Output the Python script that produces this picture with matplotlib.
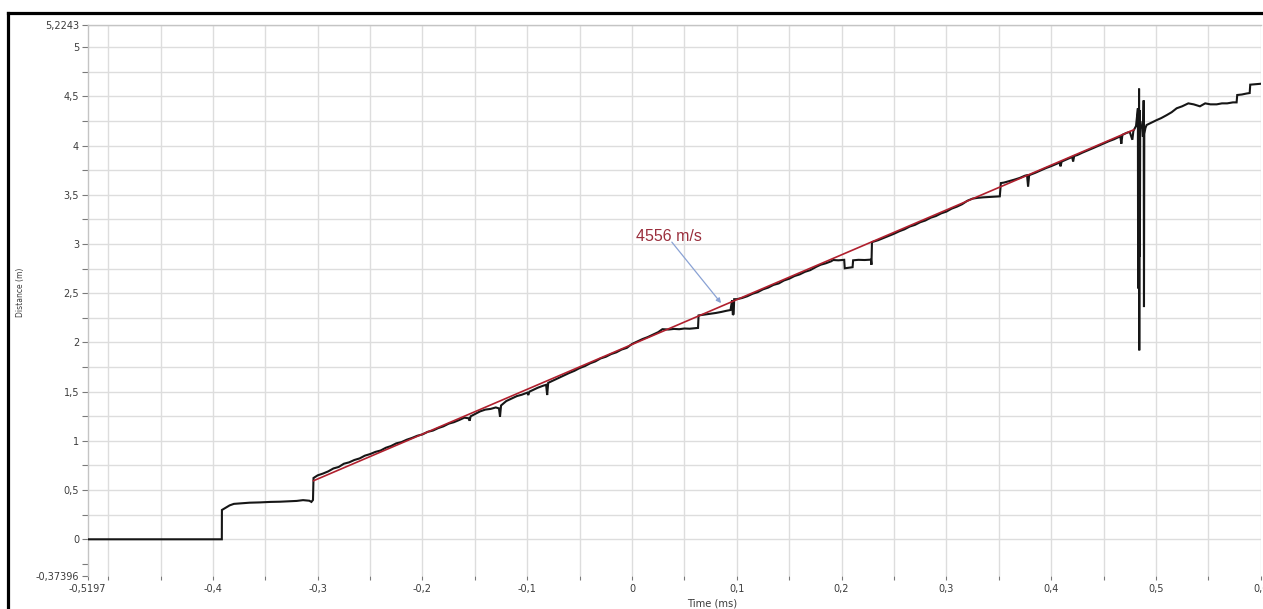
import matplotlib
matplotlib.use("Agg")
import matplotlib.pyplot as plt
from matplotlib.ticker import FixedLocator, FuncFormatter
from matplotlib.lines import Line2D
import numpy as np

# ---- measured distance trace (time in ms, distance in m) ----
time_ms = [
    -0.5197, -0.3915, -0.3914, -0.388, -0.384, -0.380, -0.372, -0.365, -0.355,
    -0.345, -0.336, -0.328, -0.320, -0.314, -0.308, -0.306, -0.3045, -0.3040,
    -0.300, -0.295, -0.290, -0.285, -0.280, -0.275, -0.270, -0.265, -0.260,
    -0.255, -0.250, -0.245, -0.240, -0.235, -0.230, -0.225, -0.220, -0.215,
    -0.210, -0.205, -0.200, -0.195, -0.190, -0.185, -0.180, -0.175, -0.170,
    -0.165, -0.160, -0.156, -0.155, -0.154, -0.150, -0.145, -0.140, -0.135,
    -0.130, -0.127, -0.126, -0.125, -0.120, -0.115, -0.110, -0.105, -0.100,
    -0.099, -0.098, -0.095, -0.090, -0.085, -0.082, -0.081, -0.080, -0.075,
    -0.070, -0.065, -0.060, -0.055, -0.050, -0.045, -0.040, -0.035, -0.030,
    -0.025, -0.020, -0.015, -0.010, -0.005, 0.000, 0.005, 0.010, 0.015,
    0.020, 0.025, 0.029, 0.035, 0.040, 0.045, 0.050, 0.055, 0.060, 0.063,
    0.0635, 0.070, 0.075, 0.080, 0.085, 0.090, 0.094, 0.0955, 0.0962, 0.0970,
    0.0975, 0.100, 0.105, 0.110, 0.115, 0.120, 0.125, 0.130, 0.135, 0.140,
    0.145, 0.150, 0.155, 0.160, 0.165, 0.170, 0.176, 0.180, 0.185, 0.190,
    0.192, 0.197, 0.2025, 0.203, 0.207, 0.2105, 0.211, 0.216, 0.222, 0.228,
    0.2285, 0.229, 0.232, 0.235, 0.240, 0.245, 0.250, 0.255, 0.260, 0.265,
    0.270, 0.275, 0.280, 0.285, 0.290, 0.295, 0.300, 0.305, 0.310, 0.315,
    0.320, 0.325, 0.330, 0.335, 0.340, 0.345, 0.351, 0.352, 0.355, 0.360,
    0.365, 0.370, 0.375, 0.377, 0.378, 0.379, 0.385, 0.390, 0.395, 0.400,
    0.405, 0.408, 0.409, 0.410, 0.415, 0.420, 0.421, 0.422, 0.425, 0.430,
    0.435, 0.440, 0.445, 0.450, 0.455, 0.460, 0.465, 0.466, 0.467, 0.468,
    0.472, 0.475, 0.4775, 0.4785, 0.481, 0.482, 0.4828, 0.4830, 0.4834,
    0.4836, 0.4839, 0.4841, 0.4844, 0.4847, 0.4850, 0.4856, 0.4870, 0.4876,
    0.4880, 0.4883, 0.4886, 0.4889, 0.4900, 0.4911, 0.495, 0.5007, 0.505,
    0.5102, 0.515, 0.5198, 0.525, 0.5309, 0.536, 0.542, 0.547, 0.552, 0.558,
    0.563, 0.568, 0.5735, 0.5770, 0.5776, 0.582, 0.5865, 0.5895, 0.590,
    0.595, 0.601,
]
distance_m = [
    0.000, 0.000, 0.298, 0.320, 0.345, 0.360, 0.366, 0.372, 0.375,
    0.380, 0.382, 0.386, 0.390, 0.398, 0.392, 0.380, 0.400, 0.623,
    0.650, 0.668, 0.690, 0.720, 0.735, 0.768, 0.782, 0.806, 0.822,
    0.850, 0.866, 0.888, 0.902, 0.930, 0.948, 0.975, 0.988, 1.012,
    1.030, 1.052, 1.066, 1.092, 1.105, 1.130, 1.148, 1.175, 1.190,
    1.212, 1.236, 1.230, 1.205, 1.250, 1.272, 1.300, 1.318, 1.325,
    1.340, 1.330, 1.246, 1.360, 1.405, 1.430, 1.455, 1.470, 1.490,
    1.466, 1.500, 1.515, 1.540, 1.560, 1.570, 1.466, 1.590, 1.615,
    1.640, 1.665, 1.690, 1.712, 1.740, 1.760, 1.788, 1.808, 1.838,
    1.855, 1.882, 1.900, 1.928, 1.945, 1.985, 2.010, 2.035, 2.055,
    2.080, 2.105, 2.135, 2.132, 2.138, 2.135, 2.142, 2.140, 2.145, 2.148,
    2.275, 2.285, 2.292, 2.300, 2.310, 2.322, 2.330, 2.430, 2.280, 2.290,
    2.440, 2.440, 2.452, 2.470, 2.495, 2.512, 2.540, 2.558, 2.585, 2.600,
    2.630, 2.648, 2.675, 2.692, 2.718, 2.735, 2.770, 2.790, 2.805, 2.825,
    2.838, 2.835, 2.840, 2.754, 2.760, 2.765, 2.835, 2.840, 2.838, 2.842,
    2.790, 3.020, 3.030, 3.040, 3.062, 3.085, 3.105, 3.130, 3.150, 3.178,
    3.195, 3.222, 3.240, 3.268, 3.285, 3.312, 3.330, 3.360, 3.380, 3.405,
    3.440, 3.462, 3.470, 3.475, 3.478, 3.480, 3.485, 3.620, 3.625, 3.640,
    3.655, 3.672, 3.695, 3.700, 3.583, 3.700, 3.725, 3.748, 3.772, 3.792,
    3.815, 3.828, 3.790, 3.838, 3.862, 3.885, 3.840, 3.895, 3.905, 3.930,
    3.952, 3.975, 3.998, 4.020, 4.045, 4.065, 4.090, 4.095, 4.020, 4.110,
    4.130, 4.140, 4.060, 4.150, 4.200, 4.300, 4.380, 2.550, 4.340,
    2.600, 4.580, 1.920, 4.360, 2.870, 4.250, 4.200, 4.180, 4.090,
    4.220, 4.460, 2.360, 4.120, 4.180, 4.210, 4.230, 4.260, 4.280,
    4.310, 4.340, 4.380, 4.400, 4.430, 4.420, 4.400, 4.430, 4.420, 4.420,
    4.430, 4.430, 4.440, 4.440, 4.515, 4.520, 4.530, 4.535, 4.620,
    4.625, 4.630,
]

# ---- linear fit (velocity from the slope) ----
velocity_mps = 4556
fit_intercept_m = 1.98
fit_start_ms = -0.304
fit_end_ms = 0.479

# ---- axis extents and ticks ----
x_min, x_max = -0.5197, 0.6
y_min, y_max = -0.37396, 5.2243
x_major = [-0.5197, -0.4, -0.3, -0.2, -0.1, 0.0, 0.1, 0.2, 0.3, 0.4, 0.5, 0.6]
x_minor = [-0.5, -0.45, -0.35, -0.25, -0.15, -0.05, 0.05, 0.15, 0.25, 0.35, 0.45, 0.55]
y_major = [-0.37396, 0.0, 0.5, 1.0, 1.5, 2.0, 2.5, 3.0, 3.5, 4.0, 4.5, 5.0, 5.2243]
y_minor = [-0.25, 0.25, 0.75, 1.25, 1.75, 2.25, 2.75, 3.25, 3.75, 4.25, 4.75]

label_text = f"{velocity_mps} m/s"
label_pos = (0.0353, 3.072)
arrow_tail = (0.038, 3.02)
arrow_tip = (0.085, 2.40)

W, H = 1263, 609
fig = plt.figure(figsize=(W / 100, H / 100), dpi=100)
fig.patch.set_facecolor("white")

ax_left, ax_right = 87.5 / W, 1260.7 / W
ax_bottom, ax_top = 1 - 576.1 / H, 1 - 25.2 / H
ax = fig.add_axes([ax_left, ax_bottom, ax_right - ax_left, ax_top - ax_bottom])

grid_color = "#dddddd"
for v in x_major[1:] + x_minor:
    ax.axvline(v, color=grid_color, lw=1.0, zorder=0)
for v in y_major[1:] + y_minor[1:]:
    ax.axhline(v, color=grid_color, lw=1.0, zorder=0)

ax.plot(time_ms, distance_m, color="#161616", lw=1.5, zorder=3,
        solid_joinstyle="miter")

slope = velocity_mps / 1000.0  # m/ms
fit_x = np.array([fit_start_ms, fit_end_ms])
ax.plot(fit_x, fit_intercept_m + slope * fit_x, color="#b0202e", lw=1.2, zorder=4)

ax.text(label_pos[0], label_pos[1], label_text, color="#9a2e3c",
        fontsize=11.5, family="Liberation Sans", ha="center", va="center", zorder=5)
ax.annotate("", xy=arrow_tip, xytext=arrow_tail,
            arrowprops=dict(arrowstyle="-|>", color="#8aa2d4", lw=0.9,
                            mutation_scale=7, shrinkA=0, shrinkB=0), zorder=5)

ax.set_xlim(x_min, x_max)
ax.set_ylim(y_min, y_max)

def comma_fmt(v, pos=None):
    s = f"{v:g}"
    if s == "-0":
        s = "0"
    return s.replace(".", ",")

ax.xaxis.set_major_locator(FixedLocator(x_major))
ax.xaxis.set_minor_locator(FixedLocator(x_minor))
ax.yaxis.set_major_locator(FixedLocator(y_major))
ax.yaxis.set_minor_locator(FixedLocator(y_minor))
ax.xaxis.set_major_formatter(FuncFormatter(comma_fmt))
ax.yaxis.set_major_formatter(FuncFormatter(comma_fmt))

tick_color = "#7a7a7a"
ax.tick_params(axis="both", which="both", direction="out", color=tick_color,
               width=0.8, labelsize=7, labelcolor="#3c3c3c")
ax.tick_params(axis="y", which="both", length=4, pad=2)
ax.tick_params(axis="x", which="both", length=3, pad=3)

for side in ("right", "bottom"):
    ax.spines[side].set_visible(False)
for side in ("left", "top"):
    ax.spines[side].set_color("#c4c4c4")
    ax.spines[side].set_linewidth(1.0)

ax.set_xlabel("Time (ms)", fontsize=7.2, color="#3c3c3c")
ax.xaxis.set_label_coords((712 - 87.5) / (1260.7 - 87.5), -(598 - 576.1) / 550.9)
ax.set_ylabel("Distance (m)", fontsize=5.5, color="#3c3c3c")
ax.yaxis.set_label_coords((25 - 87.5) / (1260.7 - 87.5), (576.1 - 292) / 550.9)

# outer black frame
fx, fy = 8 / W, 1 - 13 / H
fig.add_artist(Line2D([fx, fx], [0, fy], transform=fig.transFigure,
                      color="black", lw=2.3, solid_capstyle="projecting"))
fig.add_artist(Line2D([fx, 1], [fy, fy], transform=fig.transFigure,
                      color="black", lw=2.3, solid_capstyle="projecting"))

fig.savefig("out.png", dpi=100, facecolor="white")
